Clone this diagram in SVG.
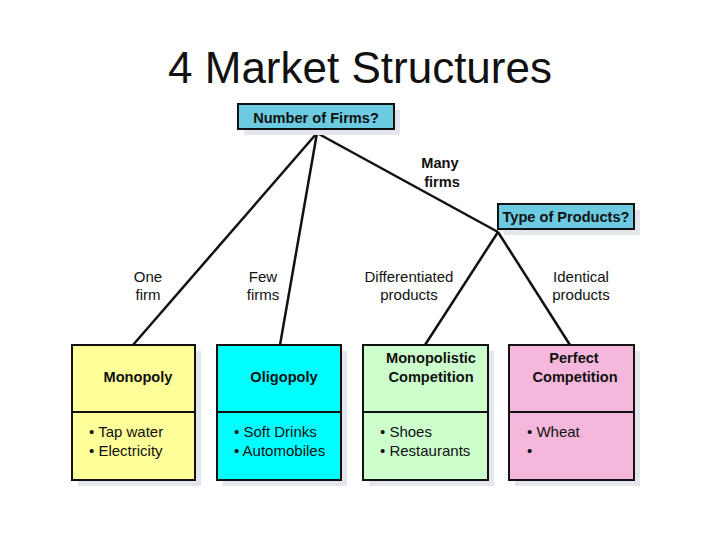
<svg xmlns="http://www.w3.org/2000/svg" width="720" height="540" viewBox="0 0 720 540">
<defs>
<style>
.t{font-family:"Liberation Sans",Arial,sans-serif;fill:#111}
.b{font-weight:bold;font-size:14.6px}
.n{font-size:15px}
.box{stroke:#111;stroke-width:2}
.sh{fill:#e4e6ee}
.q{fill:#6ccbe0;stroke:#111;stroke-width:2}
.c{stroke:#111;stroke-width:2.5;fill:none}
</style>
</defs>
<rect width="720" height="540" fill="#fff"/>
<text class="t" x="360" y="83" font-size="44" text-anchor="middle">4 Market Structures</text>
<g id="connectors">
<line class="c" x1="317" y1="133" x2="133" y2="345"/>
<line class="c" x1="317" y1="133" x2="280" y2="345"/>
<line class="c" x1="317" y1="133" x2="498" y2="232"/>
<line class="c" x1="498" y1="232" x2="425" y2="345"/>
<line class="c" x1="498" y1="232" x2="570" y2="345"/>
<text class="t b" x="440" y="168" text-anchor="middle">Many</text>
<text class="t b" x="442" y="187" text-anchor="middle">firms</text>
<text class="t n" x="148" y="282" text-anchor="middle">One</text>
<text class="t n" x="148" y="300" text-anchor="middle">firm</text>
<text class="t n" x="263" y="282" text-anchor="middle">Few</text>
<text class="t n" x="263" y="300" text-anchor="middle">firms</text>
<text class="t n" x="409" y="282" text-anchor="middle">Differentiated</text>
<text class="t n" x="409" y="300" text-anchor="middle">products</text>
<text class="t n" x="581" y="282" text-anchor="middle">Identical</text>
<text class="t n" x="581" y="300" text-anchor="middle">products</text>
</g>
<g id="number-of-firms">
<rect class="sh" x="244" y="110" width="156" height="25"/>
<rect class="q" x="238" y="104" width="156" height="25"/>
<text class="t b" x="316" y="123" text-anchor="middle" font-size="13.8">Number of Firms?</text>
</g>
<g id="type-of-products">
<rect class="sh" x="504" y="210" width="136" height="25"/>
<rect class="q" x="498" y="204" width="136" height="25"/>
<text class="t b" x="566" y="222" text-anchor="middle" font-size="13.8">Type of Products?</text>
</g>
<g id="monopoly">
<rect class="sh" x="78" y="351" width="123" height="135"/>
<rect class="box" x="72" y="345" width="123" height="135" fill="#ffff99"/>
<line class="box" x1="72" y1="412" x2="195" y2="412"/>
<text class="t b" x="138" y="382" text-anchor="middle">Monopoly</text>
<text class="t n" x="89" y="437">• Tap water</text>
<text class="t n" x="89" y="456">• Electricity</text>
</g>
<g id="oligopoly">
<rect class="sh" x="223" y="351" width="124" height="135"/>
<rect class="box" x="217" y="345" width="124" height="135" fill="#00ffff"/>
<line class="box" x1="217" y1="412" x2="341" y2="412"/>
<text class="t b" x="284" y="382" text-anchor="middle">Oligopoly</text>
<text class="t n" x="234" y="437">• Soft Drinks</text>
<text class="t n" x="234" y="456">• Automobiles</text>
</g>
<g id="monopolistic-competition">
<rect class="sh" x="369" y="351" width="125" height="135"/>
<rect class="box" x="363" y="345" width="125" height="135" fill="#ccffcc"/>
<line class="box" x1="363" y1="412" x2="488" y2="412"/>
<text class="t b" x="431" y="363" text-anchor="middle">Monopolistic</text>
<text class="t b" x="431" y="382" text-anchor="middle">Competition</text>
<text class="t n" x="380" y="437">• Shoes</text>
<text class="t n" x="380" y="456">• Restaurants</text>
</g>
<g id="perfect-competition">
<rect class="sh" x="515" y="351" width="125" height="135"/>
<rect class="box" x="509" y="345" width="125" height="135" fill="#f5b8dc"/>
<line class="box" x1="509" y1="412" x2="634" y2="412"/>
<text class="t b" x="574" y="363" text-anchor="middle">Perfect</text>
<text class="t b" x="575" y="382" text-anchor="middle">Competition</text>
<text class="t n" x="527" y="437">• Wheat</text>
<text class="t n" x="527" y="456">•</text>
</g>
</svg>
